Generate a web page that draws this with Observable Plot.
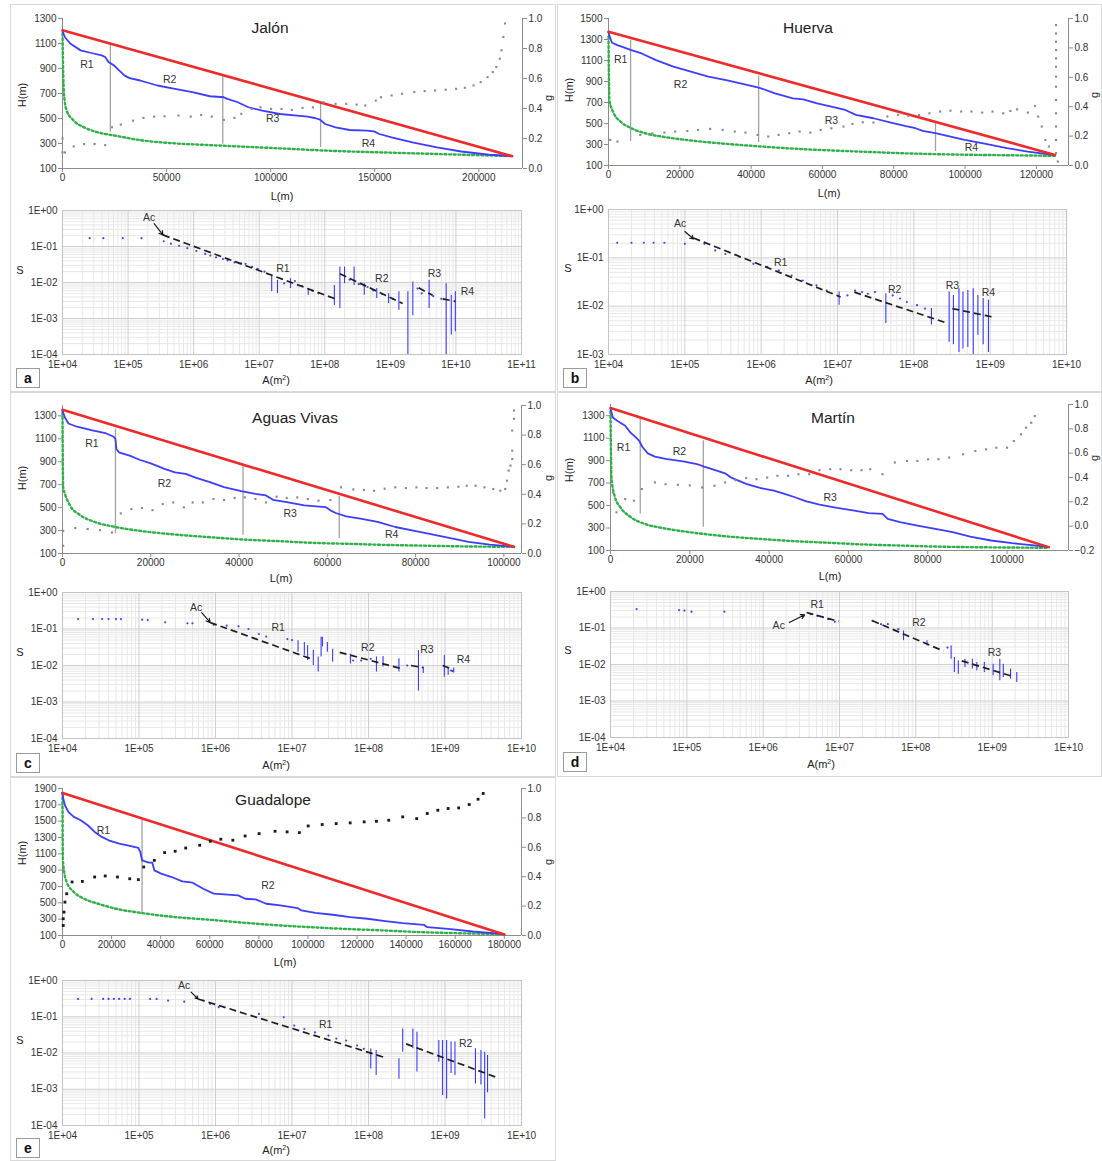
<!DOCTYPE html>
<html><head><meta charset="utf-8">
<script src="https://cdn.jsdelivr.net/npm/d3@7"></script>
<script src="https://cdn.jsdelivr.net/npm/@observablehq/plot@0.6"></script>
<style>
body{margin:0;background:#fff;font-family:"Liberation Sans",Arial,sans-serif;}
#root{position:relative;width:1102px;height:1161px;overflow:hidden;background:#fff;}
.panel{position:absolute;border:1px solid #d9d9d9;box-sizing:border-box;}
.t{position:absolute;white-space:nowrap;color:#222;line-height:1;}
.letter{position:absolute;border:1px solid #9a9a9a;width:24px;height:20px;box-sizing:border-box;font-weight:bold;font-size:14px;text-align:center;line-height:18px;color:#111;background:#fff;}
</style></head>
<body><div id="root"></div>
<script>
// ---------------- common tick labels ----------------
const gTicks01 = [0, 0.2, 0.4, 0.6, 0.8, 1.0];
const gTicksMartin = [-0.2, 0, 0.2, 0.4, 0.6, 0.8, 1.0];

// ---------------- a: Jalón ----------------
const jalonXTicks = [0, 50000, 100000, 150000, 200000];
const jalonYTicks = [100, 300, 500, 700, 900, 1100, 1300];
const jalonRed = [[0, 1206], [216000, 199]];
const jalonBlue = [[0,1200],[1200,1150],[3700,1100],[8700,1045],[13800,1024],[18800,1005],[20500,992],[22100,952],[24700,925],[27200,885],[29700,845],[32200,823],[37300,804],[45600,764],[54000,737],[62400,711],[70800,678],[77500,670],[79200,657],[84200,630],[89300,590],[96000,563],[104400,536],[112800,523],[117800,515],[121200,504],[123700,491],[126200,456],[131200,429],[137900,408],[146300,403],[149700,397],[152200,376],[158100,349],[168100,309],[179900,269],[191600,236],[205000,210],[216000,199]];
const jalonGreen = [[0,1180],[300,900],[700,700],[2000,563],[5400,483],[10400,429],[17100,389],[25500,362],[37300,327],[54000,301],[70800,287],[87600,274],[104400,261],[121200,247],[137900,236],[154700,228],[171500,220],[188300,212],[205000,204],[216000,199]];
const jalonG = [[0,0.107],[0,0.2],[1200,0.107],[5400,0.147],[10400,0.163],[15400,0.163],[20500,0.156],[23800,0.275],[28000,0.292],[33900,0.319],[38900,0.337],[44000,0.346],[49000,0.348],[55700,0.353],[61600,0.346],[66600,0.357],[71700,0.346],[77500,0.324],[82600,0.337],[85900,0.364],[90900,0.397],[95100,0.408],[100200,0.397],[105200,0.397],[110200,0.391],[115300,0.404],[120300,0.408],[125300,0.442],[131200,0.431],[136300,0.431],[141300,0.426],[145500,0.42],[150500,0.453],[153000,0.475],[158100,0.487],[163100,0.498],[169000,0.509],[174000,0.516],[179000,0.52],[184100,0.525],[189100,0.531],[193300,0.538],[197500,0.554],[200900,0.576],[204200,0.609],[206700,0.643],[208400,0.676],[210100,0.732],[210900,0.788],[211800,0.877],[212600,0.967]];
const jalonDiv = [[23000,390,1100],[77000,295,840],[124000,268,625]];
const jalonReach = [["R1",11700,933],["R2",51500,810],["R3",101000,496],["R4",147000,300]];
const jalonSDots = [[2.6e4,0.17],[4.2e4,0.17],[8.3e4,0.17],[1.6e5,0.17],[3.5e5,0.14],[4.5e5,0.12],[6e5,0.105],[8e5,0.09],[1.1e6,0.075],[1.5e6,0.062],[1.8e6,0.056],[2.2e6,0.05],[2.8e6,0.045],[3.3e6,0.041],[4.2e6,0.036],[5.3e6,0.034],[6.2e6,0.033],[7.8e6,0.027],[9.5e6,0.024],[1.2e7,0.02],[2.4e7,0.0095],[3.5e7,0.011],[4.5e7,0.008],[6.5e7,0.0058],[8e7,0.005],[2.4e8,0.012],[3.3e8,0.009],[4.5e8,0.0075],[5.5e8,0.006],[7.5e8,0.0048],[1.1e9,0.0035],[2.6e9,0.0068],[3e9,0.005],[4.5e9,0.0042],[6e9,0.0035]];
const jalonSStreaks = [[1.55e7,0.016,0.0055],[1.9e7,0.0115,0.0049],[3e7,0.0128,0.0068],[5.6e7,0.0068,0.0044],[1.4e8,0.0083,0.0023],[1.7e8,0.027,0.0019],[2.0e8,0.027,0.0093],[2.8e8,0.027,0.0083],[4e8,0.0093,0.0044],[6.2e8,0.0068,0.0036],[9.4e8,0.0049,0.0026],[1.35e9,0.0055,0.0017],[1.85e9,0.0055,0.0001],[2.2e9,0.0103,0.0012],[3.9e9,0.0115,0.0019],[7.1e9,0.0093,0.0001],[8.5e9,0.0044,0.00035],[9.8e9,0.0055,0.00043]];
const jalonSFits = [[3.4e5,0.21,1.4e8,0.0036],[1.7e8,0.0176,1.54e9,0.0026],[2.7e9,0.0071,4.4e9,0.0044],[6.3e9,0.0035,9.8e9,0.003]];
const jalonAc = [2.1e5, 0.62, 2.5e5, 0.43, 3.4e5, 0.21];
const jalonSReach = [["R1",2.3e7,0.025],["R2",7.4e8,0.0129],["R3",4.7e9,0.0176],["R4",1.5e10,0.0055]];

// ---------------- b: Huerva ----------------
const huervaXTicks = [0, 20000, 40000, 60000, 80000, 100000, 120000];
const huervaYTicks = [100, 300, 500, 700, 900, 1100, 1300, 1500];
const huervaRed = [[0, 1373], [125200, 201]];
const huervaBlue = [[0,1367],[500,1310],[1000,1269],[2500,1247],[6400,1199],[9300,1167],[13300,1104],[18200,1041],[23100,993],[28000,946],[33000,914],[37900,876],[41800,844],[42800,835],[46700,787],[51700,740],[54600,730],[58500,692],[62500,661],[66400,629],[69400,582],[74300,550],[79200,509],[83100,477],[86100,455],[88100,430],[92000,407],[95000,382],[99900,344],[105800,306],[111700,265],[117600,233],[122500,211],[125200,198]];
const huervaGreen = [[0,1326],[100,1000],[250,724],[1500,597],[3400,518],[6400,455],[10300,407],[16200,369],[23100,338],[33000,306],[42800,281],[52600,259],[62500,243],[72300,230],[82200,217],[92000,208],[101800,202],[111700,198],[125200,192]];
const huervaG = [[500,0.174],[2500,0.163],[8900,0.208],[12300,0.219],[15700,0.224],[18700,0.231],[22100,0.235],[25100,0.242],[28500,0.249],[32000,0.242],[35400,0.231],[38400,0.224],[41800,0.208],[44800,0.197],[47700,0.208],[50700,0.219],[53600,0.231],[56600,0.224],[59500,0.242],[62500,0.253],[65900,0.265],[68400,0.283],[71300,0.294],[74300,0.292],[78200,0.333],[81200,0.344],[84100,0.337],[87100,0.344],[90000,0.355],[93000,0.367],[95900,0.373],[98900,0.367],[101800,0.367],[104800,0.36],[107700,0.367],[110700,0.355],[112700,0.371],[114600,0.382],[117600,0.36],[119600,0.405],[120500,0.333],[121500,0.265],[122500,0.174],[123500,0.129],[125500,0.955],[125500,0.898],[125500,0.842],[125500,0.785],[125500,0.729],[125500,0.672],[125500,0.604],[125500,0.536],[125500,0.446],[125500,0.355],[125500,0.265],[125500,0.174],[125500,0.084],[126000,0.027]];
const huervaDiv = [[6200,328,1294],[42100,319,952],[91700,233,518]];
const huervaReach = [["R1",3400,1104],["R2",20200,867],["R3",62500,528],["R4",101800,274]];
const huervaSDots = [[1.3e4,0.205],[2e4,0.205],[2.9e4,0.205],[3.9e4,0.205],[5.4e4,0.205],[1e5,0.195],[1.8e5,0.195],[2.5e5,0.142],[3.4e5,0.12],[5.2e5,0.104],[7.9e5,0.075],[1.2e6,0.065],[1.7e6,0.055],[2.5e6,0.043],[3.5e6,0.034],[5.3e6,0.027],[7.2e6,0.021],[1.35e7,0.0167],[1.7e7,0.021],[2.1e7,0.0196],[2.5e7,0.018],[3.1e7,0.0196],[5.3e7,0.0167],[6.6e7,0.0144],[8.1e7,0.0122],[1.1e8,0.0105],[1.4e8,0.0089]];
const huervaSStreaks = [[1.05e7,0.0196,0.0105],[4.3e7,0.018,0.0044],[1.7e8,0.0089,0.0041],[2.9e8,0.0196,0.0018],[3.3e8,0.0167,0.0016],[3.9e8,0.023,0.0011],[4.4e8,0.0196,0.0013],[5.1e8,0.021,0.0014],[6e8,0.023,0.001],[6.9e8,0.0167,0.0025],[8.1e8,0.0144,0.0016],[9.5e8,0.0133,0.0011]];
const huervaSFits = [[1.3e5,0.257,1.1e7,0.0155],[1.66e7,0.0195,2.57e8,0.0046],[3.2e8,0.0089,1.07e9,0.006]];
const huervaAc = [8.7e4, 0.5, 1e5, 0.35, 1.3e5, 0.245];
const huervaSReach = [["R1",1.8e6,0.081],["R2",5.6e7,0.022],["R3",3.2e8,0.027],["R4",9.5e8,0.0195]];

// ---------------- c: Aguas Vivas ----------------
const avXTicks = [0, 20000, 40000, 60000, 80000, 100000];
const avYTicks = [100, 300, 500, 700, 900, 1100, 1300];
const avRed = [[0, 1352], [102300, 158]];
const avBlue = [[0,1343],[550,1286],[1350,1233],[3300,1205],[6500,1176],[9700,1150],[11600,1118],[12000,1098],[12200,1011],[12800,982],[15200,953],[17600,915],[20000,886],[23100,837],[25500,808],[27900,794],[30300,759],[33400,722],[36600,678],[40500,644],[43700,620],[46100,606],[47700,568],[50800,548],[54800,519],[59600,505],[60700,476],[61900,453],[64300,424],[67500,403],[71400,375],[75400,331],[80900,288],[86500,244],[92000,201],[96800,178],[102300,158]];
const avGreen = [[0,1330],[150,678],[550,620],[1700,519],[4100,432],[7300,375],[12000,331],[17600,297],[25500,265],[33400,242],[41300,221],[49300,207],[57200,192],[65100,184],[73000,175],[80900,169],[88900,163],[102300,158]];
const avG = [[150,0.052],[150,0.153],[2900,0.172],[5700,0.165],[8500,0.158],[11200,0.142],[13200,0.271],[15600,0.3],[18000,0.307],[20400,0.293],[22700,0.334],[25100,0.345],[27500,0.312],[29500,0.345],[31800,0.345],[34200,0.368],[36600,0.361],[39000,0.375],[41300,0.379],[43700,0.368],[46100,0.345],[48500,0.384],[50800,0.375],[53200,0.379],[55600,0.368],[58000,0.357],[60700,0.361],[63100,0.447],[65900,0.433],[68300,0.429],[70600,0.424],[73000,0.438],[75400,0.447],[77800,0.442],[80200,0.447],[82500,0.442],[84900,0.442],[87300,0.447],[89700,0.451],[91600,0.458],[93600,0.458],[95600,0.447],[97600,0.436],[99200,0.424],[100300,0.436],[100700,0.492],[101100,0.56],[101500,0.594],[101900,0.639],[101900,0.695],[101900,0.831],[102300,0.91],[102300,0.966]];
const avDiv = [[12000,273,1184],[40900,259,866],[62700,230,597]];
const avReach = [["R1",6650,1054],["R2",23100,707],["R3",51600,447],["R4",74600,268]];
const avSDots = [[1.6e4,0.187],[2.5e4,0.187],[3.3e4,0.187],[4e4,0.187],[5e4,0.187],[5.8e4,0.187],[1.1e5,0.18],[1.3e5,0.176],[2.2e5,0.152],[4.3e5,0.143],[5e5,0.143],[9.5e5,0.13],[1.4e6,0.123],[2e6,0.118],[2.7e6,0.1],[3.7e6,0.073],[4.6e6,0.062],[8.7e6,0.053],[1e7,0.05],[6.3e7,0.0137],[8e7,0.0137],[1.07e8,0.0152],[3.2e8,0.01],[1.2e9,0.0073],[1.25e9,0.007]];
const avSStreaks = [[1.2e7,0.048,0.023],[1.45e7,0.043,0.019],[1.6e7,0.035,0.0137],[1.9e7,0.026,0.01],[2.2e7,0.017,0.0066],[2.4e7,0.059,0.017],[2.5e7,0.059,0.032],[2.9e7,0.043,0.023],[3.4e7,0.028,0.0123],[5.8e7,0.0208,0.011],[1.27e8,0.017,0.0066],[1.55e8,0.0177,0.0091],[2.5e8,0.0152,0.0066],[4.5e8,0.0257,0.002],[5.2e8,0.009,0.006],[9.8e8,0.0187,0.0048],[1.1e9,0.009,0.0054],[1.3e9,0.0086,0.0062]];
const avSFits = [[8.5e5,0.151,1.8e7,0.0151],[4.2e7,0.0229,2.75e8,0.0081],[3.6e8,0.01,5.2e8,0.0087],[9.3e8,0.01,1.2e9,0.0081]];
const avAc = [5.6e5, 0.39, 6.6e5, 0.28, 8.5e5, 0.151];
const avSReach = [["R1",6.6e6,0.111],["R2",9.8e7,0.0316],["R3",5.8e8,0.028],["R4",1.74e9,0.0145]];

// ---------------- d: Martín ----------------
const martinXTicks = [0, 20000, 40000, 60000, 80000, 100000];
const martinYTicks = [100, 300, 500, 700, 900, 1100, 1300];
const martinRed = [[0, 1368], [110500, 130]];
const martinBlue = [[0,1359],[600,1285],[1900,1250],[3700,1211],[5000,1152],[6400,1107],[7200,1078],[8100,1019],[9400,965],[11200,936],[13900,915],[18300,894],[21800,870],[23600,847],[26200,817],[28900,787],[30600,746],[34200,693],[37700,657],[41200,633],[43900,604],[46500,574],[49200,539],[52700,509],[57100,479],[61500,456],[65100,432],[68600,426],[69900,382],[73000,352],[77400,322],[81900,293],[86300,263],[90700,224],[96000,189],[101300,165],[107500,144],[110500,130]];
const martinGreen = [[0,1340],[260,741],[1100,578],[2400,489],[5000,400],[8600,337],[13000,301],[20000,263],[28900,227],[37700,203],[46500,183],[55400,168],[64200,153],[73000,144],[81900,135],[90700,130],[99500,127],[110500,124]];
const martinG = [[600,0.277],[1500,0.114],[3700,0.223],[5900,0.209],[7900,0.305],[11200,0.359],[13900,0.345],[17000,0.34],[20000,0.335],[23100,0.318],[26200,0.332],[28900,0.359],[31500,0.378],[34200,0.395],[36800,0.386],[39500,0.4],[42100,0.414],[44800,0.414],[47400,0.427],[50100,0.427],[52700,0.46],[55400,0.468],[58000,0.468],[60700,0.46],[63300,0.46],[65500,0.468],[68600,0.427],[71700,0.523],[74800,0.536],[77400,0.536],[80100,0.55],[82700,0.55],[85400,0.564],[88900,0.591],[92000,0.618],[94700,0.632],[97300,0.645],[100000,0.645],[101700,0.7],[103500,0.755],[104800,0.809],[106100,0.85],[107000,0.905]];
const martinDiv = [[7500,426,1285],[23400,307,1078]];
const martinReach = [["R1",3300,1019],["R2",17400,980],["R3",55400,568]];
const martinSDots = [[2.2e4,0.33],[7.9e4,0.31],[9.3e4,0.3],[1.15e5,0.28],[3.1e5,0.28],[4.2e6,0.24],[5.1e6,0.215],[7.1e6,0.175],[8.7e6,0.148],[2.7e7,0.157],[3.5e7,0.127],[4.3e7,0.127],[5.9e7,0.093],[2.6e8,0.029]];
const martinSStreaks = [[6.9e7,0.083,0.045],[1.4e8,0.045,0.032],[2.9e8,0.032,0.014],[3.2e8,0.0155,0.006],[3.6e8,0.0126,0.0054],[4.4e8,0.014,0.0083],[5.5e8,0.014,0.0075],[6.3e8,0.0113,0.0067],[7.9e8,0.0113,0.006],[1.03e9,0.0102,0.0049],[1.26e9,0.014,0.0036],[1.4e9,0.0102,0.0044],[1.74e9,0.0075,0.004],[2.1e9,0.006,0.0032]];
const martinSFits = [[3.7e6,0.266,9.8e6,0.151],[2.7e7,0.158,2.3e8,0.0234],[4e8,0.0126,1.74e9,0.0049]];
const martinAc = [1.6e6, 0.115, 2.2e6, 0.141, 3.5e6, 0.229];
const martinSReach = [["R1",5.1e6,0.45],["R2",1.1e8,0.14],["R3",1.07e9,0.0214]];

// ---------------- e: Guadalope ----------------
const guadXTicks = [0,20000,40000,60000,80000,100000,120000,140000,160000,180000];
const guadYTicks = [100,300,500,700,900,1100,1300,1500,1700,1900];
const guadRed = [[0, 1845], [180000, 113]];
const guadBlue = [[0,1850],[300,1777],[1000,1695],[2400,1614],[4600,1552],[7400,1511],[10300,1450],[13100,1368],[16000,1307],[18800,1266],[23100,1225],[27400,1197],[30900,1172],[31700,1123],[32400,1021],[35200,992],[36600,992],[37400,898],[40200,857],[44500,816],[48800,763],[53000,747],[57300,673],[61600,612],[67300,600],[71600,591],[74400,550],[78700,542],[83000,489],[88700,468],[95800,436],[97300,407],[103000,378],[110100,354],[117200,325],[124300,305],[131500,276],[138600,252],[147200,231],[148600,202],[157100,182],[167100,149],[180000,116]];
const guadGreen = [[0,1850],[150,1041],[700,877],[1700,755],[4600,632],[8800,550],[14500,489],[21700,428],[31700,378],[45900,325],[60200,292],[74400,255],[88700,223],[103000,198],[117200,178],[131500,161],[145700,141],[160000,129],[180000,116]];
const guadG = [[300,0.068],[300,0.114],[600,0.159],[1000,0.227],[1700,0.284],[3900,0.364],[8100,0.368],[13100,0.398],[17400,0.405],[22400,0.398],[27400,0.386],[30900,0.38],[33100,0.466],[37400,0.511],[41600,0.564],[45900,0.573],[50200,0.595],[55900,0.614],[60200,0.641],[64500,0.655],[69400,0.648],[74400,0.677],[80100,0.693],[86600,0.709],[91500,0.705],[96500,0.7],[100100,0.745],[105800,0.755],[111500,0.761],[117200,0.766],[122900,0.773],[127900,0.777],[132900,0.784],[138600,0.807],[144300,0.795],[148600,0.83],[152900,0.852],[157100,0.864],[161400,0.868],[165700,0.891],[169300,0.927],[171400,0.966]];
const guadDiv = [[32400,366,1511]];
const guadReach = [["R1",16700,1389],["R2",83700,714]];
const guadSDots = [[1.6e4,0.31],[2.4e4,0.31],[3.4e4,0.31],[4e4,0.31],[4.7e4,0.31],[5.5e4,0.31],[6.5e4,0.31],[7.6e4,0.31],[1.4e5,0.31],[1.7e5,0.31],[2.4e5,0.28],[3.9e5,0.26],[6.9e5,0.28],[8.5e5,0.227],[1.1e6,0.184],[3.7e6,0.12],[7.8e6,0.097],[1.07e7,0.057],[1.45e7,0.046],[2e7,0.037],[3e7,0.03],[3.8e7,0.025],[5.1e7,0.022],[7.1e7,0.016],[8.7e7,0.013]];
const guadSStreaks = [[1.07e8,0.0129,0.0036],[1.26e8,0.0117,0.0024],[2.5e8,0.0069,0.0019],[2.8e8,0.046,0.0105],[3.8e8,0.046,0.013],[4.3e8,0.0375,0.003],[8.3e8,0.022,0.0056],[9.3e8,0.022,0.00067],[1.05e9,0.022,0.00054],[1.2e9,0.02,0.0027],[1.35e9,0.02,0.0024],[2.5e9,0.013,0.0014],[2.95e9,0.0117,0.0013],[3.3e9,0.0105,0.00015],[3.6e9,0.0085,0.0008]];
const guadSFits = [[5.9e5,0.31,1.74e8,0.0072],[3.1e8,0.0178,4.8e9,0.0021]];
const guadAc = [3.9e5, 0.72, 4.8e5, 0.48, 5.9e5, 0.31];
const guadSReach = [["R1",2.75e7,0.06],["R2",1.86e9,0.0178]];

// ---------------- drawing ----------------
const FONT = '"Liberation Sans", Arial, sans-serif';
const M = {l: 52, r: 44, t: 8, b: 24};
const root = document.getElementById("root");
const P = d => d[0], Q = d => d[1];
const fmtE = d => { const e = Math.round(Math.log10(d)); return "1E" + (e < 0 ? "-" : "+") + String(Math.abs(e)).padStart(2, "0"); };

function html(cls, text, x, y, css) {
  const el = document.createElement("div");
  el.className = cls; el.innerHTML = text;
  el.style.left = x + "px"; el.style.top = y + "px";
  Object.assign(el.style, css || {});
  root.appendChild(el);
  return el;
}
function centered(text, cx, cy, size, rot) {
  html("t", text, cx, cy, {fontSize: size + "px", transform: "translate(-50%,-50%)" + (rot ? " rotate(-90deg)" : "")});
}
function mount(svg, box) {
  svg.style.position = "absolute";
  svg.style.left = (box[0] - M.l) + "px";
  svg.style.top = (box[2] - M.t) + "px";
  root.appendChild(svg);
}
function baseOpts(box) {
  return {width: box[1] - box[0] + M.l + M.r, height: box[3] - box[2] + M.t + M.b,
    marginLeft: M.l, marginRight: M.r, marginTop: M.t, marginBottom: M.b,
    style: {fontFamily: FONT, fontSize: "10px", background: "transparent", color: "#333", overflow: "visible"}};
}
function logTicks(dom) {
  const maj = [], min = [];
  const e0 = Math.round(Math.log10(dom[0])), e1 = Math.round(Math.log10(dom[1]));
  for (let e = e0; e <= e1; e++) {
    const v = Math.pow(10, e); maj.push(v);
    if (e < e1) for (let k = 2; k < 10; k++) min.push(k * v);
  }
  return {maj, min};
}

function drawProfile(c) {
  const base = baseOpts(c.box);
  const xs = {domain: [0, c.xMax], axis: null};
  const main = Plot.plot({...base, x: xs, y: {domain: c.yDomain, axis: null}, marks: [
    Plot.ruleX([0], {stroke: "#8c8c8c"}),
    Plot.ruleY([c.yDomain[0]], {stroke: "#8c8c8c"}),
    Plot.axisY({ticks: c.yTicks, tickFormat: d3.format("d"), tickSize: 4, tickPadding: 2, label: null, stroke: "#8c8c8c", fill: "#333"}),
    Plot.axisX({ticks: c.xTicks, tickFormat: d3.format("d"), tickSize: 4, tickPadding: 1, label: null, stroke: "#8c8c8c", fill: "#333"}),
    Plot.ruleX(c.div, {x: d => d[0], y1: d => d[1], y2: d => d[2], stroke: "#a3a3a3", strokeWidth: 1.3}),
    Plot.line(c.green, {x: P, y: Q, stroke: "#2fb04b", strokeWidth: 2.4, strokeDasharray: "2,2.6", curve: "monotone-x"}),
    Plot.line(c.blue, {x: P, y: Q, stroke: "#3d3dff", strokeWidth: 1.8}),
    Plot.line(c.red, {x: P, y: Q, stroke: "#ee2a2a", strokeWidth: 2.6}),
    Plot.text(c.reach, {x: d => d[1], y: d => d[2], text: d => d[0], fontSize: 10.5, fill: "#333"})
  ]});
  mount(main, c.box);
  const gp = Plot.plot({...base, x: xs, y: {domain: c.gDomain, axis: null}, marks: [
    Plot.ruleX([c.xMax], {stroke: "#8c8c8c"}),
    Plot.axisY({anchor: "right", ticks: c.gTicks, tickFormat: d3.format(".1f"), tickSize: 4, tickPadding: 2, label: null, stroke: "#8c8c8c", fill: "#333"}),
    Plot.dot(c.g, {x: P, y: Q, r: c.gR, symbol: "square", fill: c.gColor, stroke: null})
  ]});
  mount(gp, c.box);
}

function drawSlope(c) {
  const base = baseOpts(c.box);
  const xt = logTicks(c.xDomain), yt = logTicks(c.yDomain);
  const svg = Plot.plot({...base, x: {type: "log", domain: c.xDomain, axis: null}, y: {type: "log", domain: c.yDomain, axis: null}, marks: [
    Plot.ruleX(xt.min, {stroke: "#e8e8e8"}),
    Plot.ruleY(yt.min, {stroke: "#e8e8e8"}),
    Plot.ruleX(xt.maj, {stroke: "#cfcfcf"}),
    Plot.ruleY(yt.maj, {stroke: "#cfcfcf"}),
    Plot.frame({stroke: "#c4c4c4"}),
    Plot.axisX({ticks: xt.maj, tickFormat: fmtE, tickSize: 0, tickPadding: 6, label: null, fill: "#333"}),
    Plot.axisY({ticks: yt.maj, tickFormat: fmtE, tickSize: 0, tickPadding: 5, label: null, fill: "#333"}),
    Plot.ruleX(c.streaks, {x: d => d[0], y1: d => d[1], y2: d => d[2], stroke: "#3a3aff", strokeWidth: 1.1}),
    Plot.dot(c.dots, {x: P, y: Q, r: 1.1, fill: "#4444ff", stroke: null}),
    Plot.link(c.fits, {x1: d => d[0], y1: d => d[1], x2: d => d[2], y2: d => d[3], stroke: "#1e1e1e", strokeWidth: 1.7, strokeDasharray: "7,4"}),
    Plot.arrow([c.ac], {x1: d => d[2], y1: d => d[3], x2: d => d[4], y2: d => d[5], stroke: "#111", strokeWidth: 1.1, headLength: 6}),
    Plot.text([c.ac], {x: d => d[0], y: d => d[1], text: () => "Ac", fontSize: 10.5, fill: "#333"}),
    Plot.text(c.reach, {x: d => d[1], y: d => d[2], text: d => d[0], fontSize: 10.5, fill: "#333"})
  ]});
  mount(svg, c.box);
}

// panel frames
[[10,4,546,388],[557,4,545,388],[10,392,546,385],[557,392,545,385],[10,777,546,384]].forEach(b =>
  html("panel", "", b[0], b[1], {width: b[2] + "px", height: b[3] + "px"}));

const panels = [
  {letter: "a", title: "Jalón", tx: 270, ty: 28, lx: 16, ly: 368,
   prof: {box: [62, 522, 18, 168], xMax: 221000, yDomain: [100, 1300], gDomain: [0, 1], xTicks: jalonXTicks, yTicks: jalonYTicks, gTicks: gTicks01,
          red: jalonRed, blue: jalonBlue, green: jalonGreen, g: jalonG, div: jalonDiv, reach: jalonReach, gColor: "#8a8a8a", gR: 1.2},
   slope: {box: [62, 521, 210, 354], xDomain: [1e4, 1e11], yDomain: [1e-4, 1], dots: jalonSDots, streaks: jalonSStreaks, fits: jalonSFits, ac: jalonAc, reach: jalonSReach},
   H: [22, 95], G: [548, 98], L: [282, 196], S: [20, 270], A: [276, 380]},
  {letter: "b", title: "Huerva", tx: 808, ty: 28, lx: 563, ly: 368,
   prof: {box: [608, 1068, 18, 165], xMax: 129000, yDomain: [100, 1500], gDomain: [0, 1], xTicks: huervaXTicks, yTicks: huervaYTicks, gTicks: gTicks01,
          red: huervaRed, blue: huervaBlue, green: huervaGreen, g: huervaG, div: huervaDiv, reach: huervaReach, gColor: "#8a8a8a", gR: 1.2},
   slope: {box: [608, 1066, 209, 354], xDomain: [1e4, 1e10], yDomain: [1e-3, 1], dots: huervaSDots, streaks: huervaSStreaks, fits: huervaSFits, ac: huervaAc, reach: huervaSReach},
   H: [569, 90], G: [1094, 95], L: [829, 193], S: [568, 268], A: [819, 380]},
  {letter: "c", title: "Aguas Vivas", tx: 295, ty: 418, lx: 16, ly: 753,
   prof: {box: [62, 521, 405, 553], xMax: 104000, yDomain: [100, 1390], gDomain: [0, 1], xTicks: avXTicks, yTicks: avYTicks, gTicks: gTicks01,
          red: avRed, blue: avBlue, green: avGreen, g: avG, div: avDiv, reach: avReach, gColor: "#8a8a8a", gR: 1.2},
   slope: {box: [62, 521, 592, 738], xDomain: [1e4, 1e10], yDomain: [1e-4, 1], dots: avSDots, streaks: avSStreaks, fits: avSFits, ac: avAc, reach: avSReach},
   H: [22, 478], G: [548, 478], L: [281, 578], S: [20, 652], A: [276, 765]},
  {letter: "d", title: "Martín", tx: 833, ty: 418, lx: 563, ly: 752,
   prof: {box: [610, 1068, 404, 550], xMax: 115500, yDomain: [100, 1400], gDomain: [-0.2, 1], xTicks: martinXTicks, yTicks: martinYTicks, gTicks: gTicksMartin,
          red: martinRed, blue: martinBlue, green: martinGreen, g: martinG, div: martinDiv, reach: martinReach, gColor: "#8a8a8a", gR: 1.2},
   slope: {box: [610, 1068, 591, 737], xDomain: [1e4, 1e10], yDomain: [1e-4, 1], dots: martinSDots, streaks: martinSStreaks, fits: martinSFits, ac: martinAc, reach: martinSReach},
   H: [569, 470], G: [1094, 458], L: [830, 576], S: [568, 650], A: [821, 764]},
  {letter: "e", title: "Guadalope", tx: 273, ty: 800, lx: 16, ly: 1138,
   prof: {box: [62, 521, 788, 935], xMax: 187000, yDomain: [100, 1900], gDomain: [0, 1], xTicks: guadXTicks, yTicks: guadYTicks, gTicks: gTicks01,
          red: guadRed, blue: guadBlue, green: guadGreen, g: guadG, div: guadDiv, reach: guadReach, gColor: "#1a1a1a", gR: 1.6},
   slope: {box: [62, 521, 980, 1125], xDomain: [1e4, 1e10], yDomain: [1e-4, 1], dots: guadSDots, streaks: guadSStreaks, fits: guadSFits, ac: guadAc, reach: guadSReach},
   H: [22, 853], G: [548, 862], L: [285, 962], S: [20, 1040], A: [276, 1150]}
];

panels.forEach(p => {
  drawProfile(p.prof);
  drawSlope(p.slope);
  centered(p.title, p.tx, p.ty, 15.5);
  centered("H(m)", p.H[0], p.H[1], 11, true);
  centered("g", p.G[0], p.G[1], 11, true);
  centered("L(m)", p.L[0], p.L[1], 11);
  centered("S", p.S[0], p.S[1], 11);
  centered("A(m<sup style='font-size:7px'>2</sup>)", p.A[0], p.A[1], 11);
  html("letter", p.letter, p.lx, p.ly);
});
</script>
</body></html>
